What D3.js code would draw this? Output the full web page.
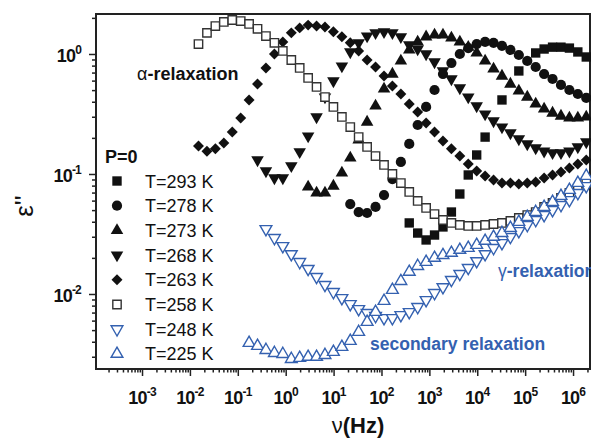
<!DOCTYPE html>
<html>
<head>
<meta charset="utf-8">
<script src="https://cdn.jsdelivr.net/npm/d3@7"></script>
<style>
  body { margin: 0; background: #fff; }
  svg { display: block; font-family: "Liberation Sans", Arial, sans-serif; }
</style>
</head>
<body>
<svg width="591" height="438"></svg>
<script>
// dielectric loss spectra, P=0
var freqHz = [0.0151, 0.0227, 0.0340, 0.0511, 0.0766, 0.115, 0.172, 0.258, 0.387, 0.581,
  0.871, 1.31, 1.96, 2.94, 4.41, 6.61, 9.91, 14.9, 22.3, 33.4,
  50.1, 75.2, 113, 169, 254, 380, 570, 855, 1282, 1923,
  2884, 4325, 6486, 9727, 14590, 21880, 32810, 49200, 73790, 110700,
  166000, 248900, 373300, 559800, 839500, 1259000, 1888000];

var eps293 = [null, null, null, null, null, null, null, null, null, null,
  null, null, null, null, null, null, null, null, null, null,
  null, null, null, null, null, 0.0391, 0.0322, 0.0282, 0.031, 0.0362,
  0.0482, 0.0681, 0.0981, 0.144, 0.203, null, 0.414, null, 0.722, null,
  1.02, 1.10, 1.14, 1.14, 1.12, 1.04, 0.944];

var eps278 = [null, null, null, null, null, null, null, null, null, null,
  null, null, null, null, null, null, null, null, 0.0562, 0.0482,
  0.0473, 0.0531, 0.0668, 0.0908, 0.126, 0.178, 0.256, 0.362, 0.501, 0.681,
  0.841, 1.00, 1.12, 1.21, 1.26, 1.24, 1.17, 1.08, 0.981, 0.875,
  0.779, 0.681, 0.619, 0.552, 0.501, 0.464, 0.43];

var eps273 = [null, null, null, null, null, null, null, null, null, null,
  null, null, null, 0.078, 0.0695, 0.0695, 0.0794, 0.102, 0.136, 0.192,
  0.271, 0.369, 0.511, 0.681, 0.875, 1.08, 1.26, 1.39, 1.44, 1.44,
  1.36, 1.26, 1.14, 1.02, 0.875, 0.75, 0.655, 0.562, 0.492, 0.438,
  0.383, 0.348, 0.322, 0.304, 0.293, 0.293, 0.299];

var eps268 = [null, null, null, null, null, null, null, 0.131, 0.106, 0.0927,
  0.0927, 0.117, 0.153, 0.207, 0.299, 0.438, 0.596, 0.794, 1.04, 1.24,
  1.41, 1.50, 1.53, 1.50, 1.39, 1.19, 1.10, 1.00, 0.858, 0.722,
  0.619, 0.521, 0.438, 0.369, 0.316, 0.277, 0.246, 0.220, 0.196, 0.178,
  0.165, 0.155, 0.150, 0.150, 0.155, 0.168, 0.185];

var eps263 = [0.171, 0.155, 0.162, 0.181, 0.224, 0.293, 0.414, 0.562, 0.765, 1.00,
  1.26, 1.50, 1.65, 1.74, 1.71, 1.68, 1.53, 1.39, 1.24, 1.06,
  0.891, 0.779, 0.655, 0.541, 0.464, 0.383, 0.329, 0.266, 0.224, 0.188,
  0.162, 0.141, 0.121, 0.106, 0.0962, 0.0891, 0.0841, 0.0841, 0.0826, 0.0841,
  0.0858, 0.0927, 0.0981, 0.104, 0.112, 0.121, 0.131];

var eps258 = [1.21, 1.50, 1.71, 1.85, 1.92, 1.88, 1.78, 1.62, 1.41, 1.24,
  1.06, 0.891, 0.765, 0.631, 0.531, 0.438, 0.362, 0.299, 0.246, 0.203,
  0.168, 0.141, 0.119, 0.100, 0.0841, 0.0708, 0.0596, 0.0521, 0.0464, 0.0414,
  0.0391, 0.0376, 0.0369, 0.0369, 0.0376, 0.0383, 0.0391, 0.0406, 0.0430, 0.0455,
  0.0482, 0.0531, 0.0574, 0.0631, 0.0695, 0.0764, 0.0841];

var eps248 = [null, null, null, null, null, null, null, null, 0.0348, 0.0293,
  0.0251, 0.0215, 0.0185, 0.0162, 0.0139, 0.0119, 0.0104, 0.00926, 0.00825, 0.0075,
  0.00695, 0.00656, 0.00631, 0.00631, 0.00668, 0.00708, 0.0078, 0.00891, 0.0102, 0.0114,
  0.0131, 0.0147, 0.0165, 0.0188, 0.0215, 0.0242, 0.0266, 0.0299, 0.0335, 0.0376,
  0.0414, 0.0455, 0.0501, 0.0552, 0.0607, 0.0695, 0.0794];

var eps225 = [null, null, null, null, null, null, 0.00391, 0.00369, 0.00341, 0.00322,
  0.00316, 0.00287, 0.00293, 0.00299, 0.00299, 0.0031, 0.00329, 0.00362, 0.00406, 0.00482,
  0.00585, 0.00708, 0.00874, 0.0108, 0.0128, 0.0153, 0.0171, 0.0185, 0.02, 0.0211,
  0.022, 0.0233, 0.0242, 0.0256, 0.0277, 0.0299, 0.0322, 0.0355, 0.0398, 0.0438,
  0.0482, 0.0531, 0.0585, 0.0656, 0.0736, 0.0841, 0.0962];

var seriesLabels = ["T=293 K", "T=278 K", "T=273 K", "T=268 K", "T=263 K", "T=258 K", "T=248 K", "T=225 K"];
var xTickExp = [-3, -2, -1, 0, 1, 2, 3, 4, 5, 6];
var yTickExp = [-2, -1, 0];

var blue = "#3461b0";
var styles = [
  {shape: "square",  fill: "#111", stroke: "none", data: eps293},
  {shape: "circle",  fill: "#111", stroke: "none", data: eps278},
  {shape: "up",      fill: "#111", stroke: "none", data: eps273},
  {shape: "down",    fill: "#111", stroke: "none", data: eps268},
  {shape: "diamond", fill: "#111", stroke: "none", data: eps263},
  {shape: "square",  fill: "#fff", stroke: "#333", data: eps258, open: true},
  {shape: "down",    fill: "#fff", stroke: blue,   data: eps248, open: true},
  {shape: "up",      fill: "#fff", stroke: blue,   data: eps225, open: true}
];

var svg = d3.select("svg");
// plot box (don't use "top" as a global name, it's window.top)
var pLeft = 96, pRight = 590, pTop = 14, pBottom = 369;

var x = d3.scaleLog().domain([1.094e-4, 2.26e6]).range([pLeft, pRight]);
var y = d3.scaleLog().domain([0.002371, 2.154]).range([pBottom, pTop]);

function symbolPath(shape, open) {
  if (shape == "square") return d3.symbol(d3.symbolSquare, open ? 70 : 88)();
  if (shape == "circle") return d3.symbol(d3.symbolCircle, 82)();
  if (shape == "diamond") return d3.symbol(d3.symbolSquare, 60)();
  return d3.symbol(d3.symbolTriangle, open ? 60 : 68)();
}
function symbolRotate(shape) {
  if (shape == "down") return " rotate(180)";
  if (shape == "diamond") return " rotate(45)";
  return "";
}

// minor tick values
var minors = [];
for (var d = -4; d <= 6; d++) {
  for (var m = 2; m <= 9; m++) minors.push(m * Math.pow(10, d));
}
var xMinors = minors.filter(function(v){ return v > x.domain()[0] && v < x.domain()[1]; });
var yMinors = minors.filter(function(v){ return v > y.domain()[0] && v < y.domain()[1]; });
var xMajors = xTickExp.map(function(e){ return Math.pow(10, e); });
var yMajors = yTickExp.map(function(e){ return Math.pow(10, e); });

var gx = svg.append("g").attr("transform", "translate(0," + pBottom + ")");
gx.append("g").call(d3.axisBottom(x).tickValues(xMinors).tickSize(3.5).tickSizeOuter(0).tickFormat(""));
gx.append("g").call(d3.axisBottom(x).tickValues(xMajors).tickSize(7).tickSizeOuter(0).tickFormat(""));
var gy = svg.append("g").attr("transform", "translate(" + pLeft + ",0)");
gy.append("g").call(d3.axisLeft(y).tickValues(yMinors).tickSize(4).tickSizeOuter(0).tickFormat(""));
gy.append("g").call(d3.axisLeft(y).tickValues(yMajors).tickSize(7).tickSizeOuter(0).tickFormat(""));
svg.selectAll(".domain").remove();
svg.selectAll(".tick line").attr("stroke", "#222").attr("stroke-width", 1.5);

// frame
svg.append("rect")
  .attr("x", pLeft).attr("y", pTop)
  .attr("width", pRight - pLeft).attr("height", pBottom - pTop)
  .attr("fill", "none").attr("stroke", "#222").attr("stroke-width", 2);

// tick labels
var xl = svg.append("g").selectAll("text").data(xTickExp).enter().append("text")
  .attr("x", function(e){ return x(Math.pow(10, e)); })
  .attr("y", 404)
  .attr("text-anchor", "middle")
  .style("font-weight", "bold").style("font-size", "18px").style("letter-spacing", "-0.8px")
  .attr("fill", "#111");
xl.append("tspan").text("10");
xl.append("tspan").attr("dy", -8).style("font-size", "12px").text(function(e){ return e; });

var yl = svg.append("g").selectAll("text").data(yTickExp).enter().append("text")
  .attr("x", 81)
  .attr("y", function(e){ return y(Math.pow(10, e)) + 8; })
  .attr("text-anchor", "end")
  .style("font-weight", "bold").style("font-size", "18px").style("letter-spacing", "-0.8px")
  .attr("fill", "#111");
yl.append("tspan").text("10");
yl.append("tspan").attr("dy", -8).style("font-size", "12px").text(function(e){ return e; });

// axis titles
svg.append("text")
  .attr("x", 358).attr("y", 433)
  .attr("text-anchor", "middle")
  .style("font-size", "22px").attr("fill", "#111")
  .html('<tspan>ν</tspan><tspan style="font-weight:bold">(Hz)</tspan>');

svg.append("text")
  .attr("transform", "translate(33,206) rotate(-90)")
  .attr("text-anchor", "middle")
  .style("font-size", "26px").attr("fill", "#111")
  .text("ε''");

// data
var plot = svg.append("g");
styles.forEach(function(s) {
  var pts = [];
  s.data.forEach(function(v, i){ if (v != null) pts.push([freqHz[i], v]); });
  plot.append("g").selectAll("path").data(pts).enter().append("path")
    .attr("d", symbolPath(s.shape, s.open))
    .attr("transform", function(p){ return "translate(" + x(p[0]) + "," + y(p[1]) + ")" + symbolRotate(s.shape); })
    .attr("fill", s.fill)
    .attr("stroke", s.stroke)
    .attr("stroke-width", s.open ? 1.4 : 0);
});

// legend
var lg = svg.append("g");
lg.append("text")
  .attr("x", 105).attr("y", 163)
  .style("font-weight", "bold").style("font-size", "18px").attr("fill", "#111")
  .text("P=0");
var rows = lg.selectAll("g.row").data(styles).enter().append("g")
  .attr("class", "row")
  .attr("transform", function(d, i){ return "translate(117," + (181 + i * 24.7) + ")"; });
rows.append("path")
  .attr("d", function(d){ return symbolPath(d.shape, d.open); })
  .attr("transform", function(d){ return symbolRotate(d.shape).trim(); })
  .attr("fill", function(d){ return d.fill; })
  .attr("stroke", function(d){ return d.stroke; })
  .attr("stroke-width", function(d){ return d.open ? 1.4 : 0; });
rows.append("text")
  .attr("x", 28).attr("y", 6.5)
  .style("font-size", "18px").attr("fill", "#111")
  .text(function(d, i){ return seriesLabels[i]; });

// annotations
svg.append("text")
  .attr("x", 137).attr("y", 80)
  .style("font-size", "18px").attr("fill", "#111")
  .html('<tspan>α</tspan><tspan style="font-weight:bold">-relaxation</tspan>');
svg.append("text")
  .attr("x", 498).attr("y", 277)
  .style("font-size", "17.5px").attr("fill", blue)
  .html('<tspan>γ</tspan><tspan style="font-weight:bold">-relaxation</tspan>');
svg.append("text")
  .attr("x", 370).attr("y", 350)
  .style("font-size", "17.5px").style("font-weight", "bold").attr("fill", blue)
  .text("secondary relaxation");
</script>
</body>
</html>
